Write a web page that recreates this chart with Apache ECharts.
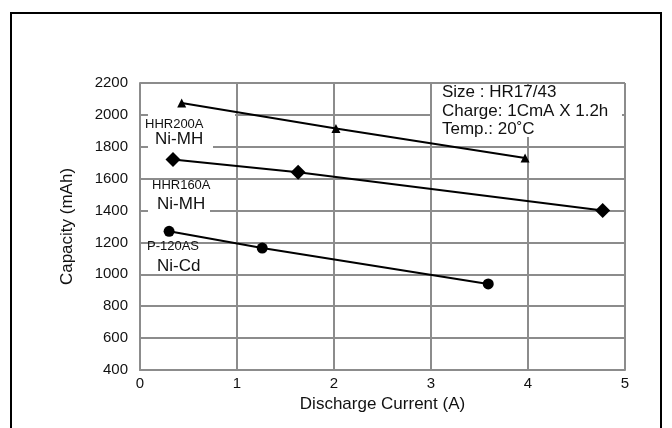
<!DOCTYPE html>
<html>
<head>
<meta charset="utf-8">
<script src="https://cdn.jsdelivr.net/npm/echarts@6/dist/echarts.min.js"></script>
<style>
  html, body { margin: 0; padding: 0; background: #fff; }
  #chart { width: 672px; height: 428px; }
</style>
</head>
<body>
<div id="chart"></div>
<script>
// Datos
const hhr200Current = [0.43, 2.02, 3.97]
const hhr200Capacity = [2075, 1915, 1730]
const hhr160Current = [0.34, 1.63, 4.77]
const hhr160Capacity = [1720, 1640, 1400]
const p120Current = [0.30, 1.26, 3.59]
const p120Capacity = [1270, 1165, 940]

const conditionLines = ['Size : HR17/43', 'Charge: 1CmA X 1.2h', 'Temp.: 20˚C']

const FONT = '"Liberation Sans", Arial, sans-serif'
const GRID_COLOR = '#8c8c8c'

const pairs = (xs, ys) => xs.map((x, i) => [x, ys[i]])

const makeSeries = (name, xs, ys, symbol, size) => ({
  name,
  type: 'line',
  data: pairs(xs, ys),
  symbol,
  symbolSize: size,
  lineStyle: { color: '#000', width: 2 },
  itemStyle: { color: '#000' },
  z: 3
})

// Etiquetas sobre el area del grafico
const textEl = (x, y, text, size) => ({
  type: 'text',
  left: x,
  top: y,
  z: 10,
  style: { text, font: `${size}px ${FONT}`, fill: '#111' }
})

const whiteRect = (x, y, w, h) => ({
  type: 'rect',
  shape: { x, y, width: w, height: h },
  style: { fill: '#fff' },
  z: 1
})

const chart = echarts.init(document.getElementById('chart'))

chart.setOption({
  backgroundColor: '#fff',
  animation: false,
  grid: { left: 140, right: 47, top: 83, bottom: 58 },
  xAxis: {
    type: 'value',
    min: 0,
    max: 5,
    interval: 1,
    name: 'Discharge Current (A)',
    nameLocation: 'middle',
    nameGap: 25,
    nameTextStyle: { fontFamily: FONT, fontSize: 17, color: '#111' },
    axisLine: { lineStyle: { color: GRID_COLOR, width: 2 } },
    axisTick: { show: false },
    axisLabel: { fontFamily: FONT, fontSize: 15, color: '#111', margin: 6 },
    splitLine: { lineStyle: { color: GRID_COLOR, width: 2 } }
  },
  yAxis: {
    type: 'value',
    min: 400,
    max: 2200,
    interval: 200,
    name: 'Capacity (mAh)',
    nameLocation: 'middle',
    nameGap: 64,
    nameTextStyle: { fontFamily: FONT, fontSize: 17, color: '#111' },
    axisLine: { show: true, lineStyle: { color: GRID_COLOR, width: 2 } },
    axisTick: { show: false },
    axisLabel: { fontFamily: FONT, fontSize: 15, color: '#111', margin: 12, formatter: v => String(v) },
    splitLine: { lineStyle: { color: GRID_COLOR, width: 2 } }
  },
  series: [
    makeSeries('HHR200A', hhr200Current, hhr200Capacity, 'triangle', 9),
    makeSeries('HHR160A', hhr160Current, hhr160Capacity, 'diamond', 15),
    makeSeries('P-120AS', p120Current, p120Capacity, 'circle', 11)
  ],
  graphic: [
    // marco exterior
    {
      type: 'rect',
      shape: { x: 11, y: 13, width: 650, height: 430 },
      style: { fill: 'none', stroke: '#000', lineWidth: 2 },
      z: 20
    },
    whiteRect(148, 111, 87, 22),
    whiteRect(148, 131, 65, 18),
    whiteRect(148, 198, 62, 17),
    whiteRect(432, 85, 190, 52),
    textEl(145, 118, 'HHR200A', 13),
    textEl(155, 131, 'Ni-MH', 17),
    textEl(152, 179, 'HHR160A', 13),
    textEl(157, 196, 'Ni-MH', 17),
    textEl(147, 240, 'P-120AS', 13),
    textEl(157, 258, 'Ni-Cd', 17),
    textEl(442, 84, conditionLines[0], 17),
    textEl(442, 103, conditionLines[1], 17),
    textEl(442, 121, conditionLines[2], 17)
  ]
})
</script>
</body>
</html>
